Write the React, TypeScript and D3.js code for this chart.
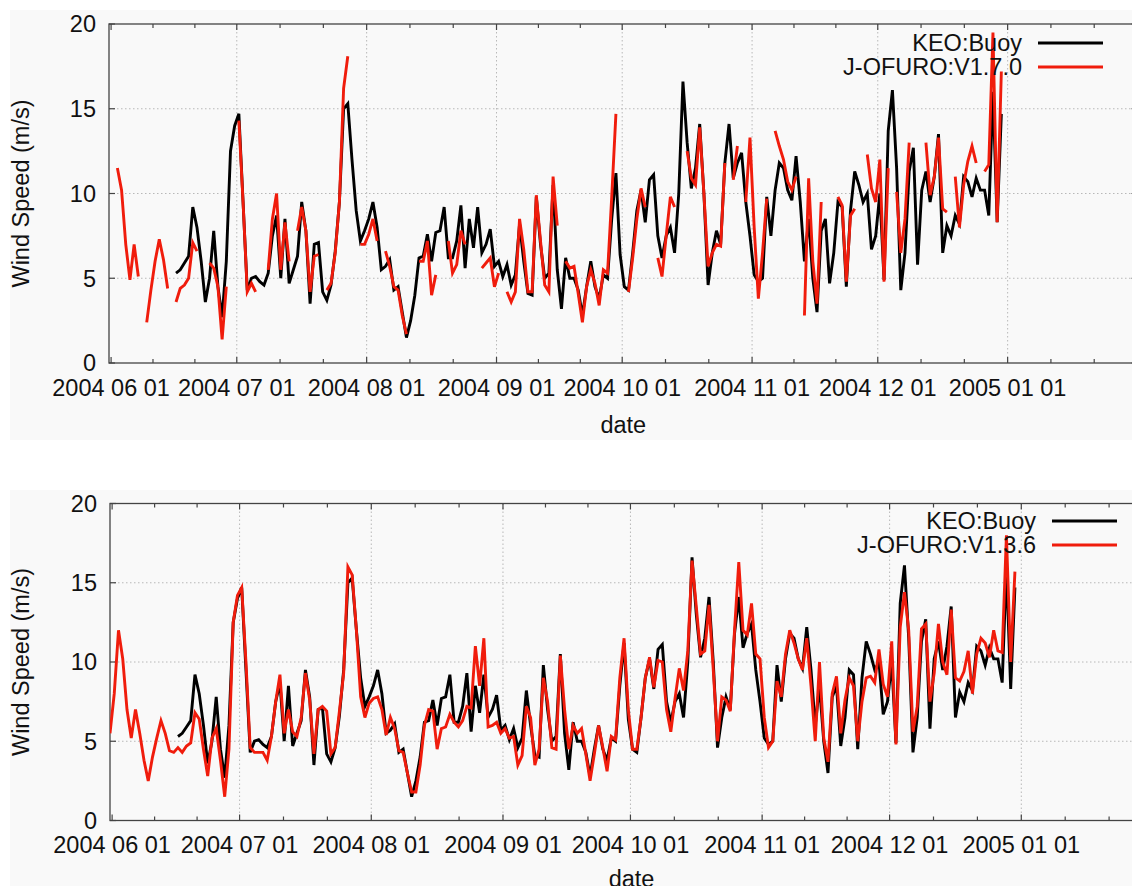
import * as d3 from "d3";
import React, { useEffect, useRef } from "react";

// daily values, first day = 2004-05-31 (noon), null = missing
const startDay = "2004-05-31T12:00:00Z";
const endDay = "2005-02-01T00:00:00Z";

const keoBuoy = [
  null, null, null, null, null, null, null, null, null, null,
  null, null, null, null, null, null, 5.3, 5.5, 5.9, 6.3,
  9.2, 8.0, 6.0, 3.6, 5.0, 7.8, 4.5, 2.7, 6.0, 12.5,
  14.0, 14.7, 9.5, 4.3, 5.0, 5.1, 4.8, 4.6, 5.3, 7.5,
  8.7, 5.0, 8.5, 4.7, 5.5, 6.3, 9.5, 7.8, 3.5, 7.0,
  7.1, 4.2, 3.7, 4.6, 6.6, 9.5, 15.0, 15.3, 12.0, 9.0,
  7.2, 7.8, 8.5, 9.5, 8.0, 5.5, 5.7, 6.1, 4.3, 4.5,
  3.0, 1.5, 2.5, 4.0, 6.2, 6.3, 7.6, 6.0, 7.7, 7.8,
  9.2, 6.2, 6.2, 7.2, 9.3, 5.6, 8.5, 6.8, 9.2, 6.5,
  7.0, 7.9, 5.7, 6.0, 5.1, 5.8, 4.6, 5.2, 8.2, 6.0,
  4.1, 4.0, 9.8, 7.0, 5.0, 5.3, 10.5, 5.5, 3.2, 6.2,
  5.0, 5.0, 4.3, 2.8, 4.5, 6.0, 4.5, 3.8, 5.2, 5.0,
  8.5, 11.2, 6.4, 4.5, 4.3, 6.5, 9.0, 10.2, 8.3, 10.8,
  11.1, 7.5, 6.2, 7.5, 8.0, 6.5, 10.0, 16.6, 13.0, 10.3,
  11.5, 14.1, 10.0, 4.6, 6.5, 7.8, 7.0, 11.8, 14.1, 10.9,
  11.8, 12.4, 9.5, 7.5, 5.2, 4.8, 5.0, 9.8, 7.5, 10.2,
  11.8, 11.5, 10.2, 9.6, 12.2, 9.5, 6.0, 8.5, 5.0, 3.0,
  7.8, 8.5, 4.7, 6.5, 9.5, 9.2, 4.5, 9.0, 11.3, 10.5,
  9.5, 10.0, 6.7, 7.5, 10.0, 4.9, 13.7, 16.1, 11.5, 4.3,
  6.5, 11.3, 12.7, 5.8, 10.2, 11.3, 9.5, 11.0, 13.5, 6.5,
  8.1, 7.5, 8.7, 8.2, 11.0, 10.7, 9.8, 10.9, 10.2, 10.2,
  8.7, 16.0, 8.3, 14.7,
];

const ofuro170 = [
  null, null, 11.5, 10.2, 7.0, 4.9, 7.0, 5.1, null, 2.4,
  4.3, 6.0, 7.3, 6.1, 4.4, null, 3.6, 4.4, 4.6, 5.0,
  7.1, 6.6, null, null, 5.9, 5.6, 4.5, 1.4, 4.5, null,
  null, 14.3, 9.5, 4.2, 4.7, 4.2, null, null, 5.5, 8.5,
  10.0, 5.5, 8.3, 6.0, null, 7.8, 9.2, 7.8, 4.2, 6.3,
  6.4, null, 4.3, 4.7, 6.5, 9.5, 16.2, 18.1, null, null,
  7.0, 7.0, 7.6, 8.5, 7.2, null, 6.6, 5.7, 4.5, 4.3,
  2.8, 1.7, null, null, 6.0, 6.0, 7.2, 4.0, 5.2, null,
  null, 7.2, 5.3, 5.8, 7.8, 7.0, null, null, null, 5.6,
  5.9, 6.2, 4.5, 5.3, null, 4.2, 3.6, 4.2, 8.5, 6.7,
  4.2, 4.2, 9.9, 7.2, 4.6, 4.2, 11.0, 8.1, null, 6.0,
  5.6, 5.7, 4.1, 2.4, 4.5, 5.5, 4.7, 3.4, 5.5, 5.3,
  9.8, 14.7, null, null, 4.2, 6.2, 8.5, 10.3, 9.2, null,
  null, 6.2, 5.1, 7.5, 9.8, 9.2, null, null, 12.5, 10.9,
  10.5, 13.9, 10.0, 5.7, 6.5, 7.0, 6.9, 11.8, null, 10.8,
  12.8, null, 9.5, 13.3, 8.0, 3.8, 6.5, 9.7, null, 13.7,
  12.8, 12.0, 10.7, 10.2, 11.0, null, 2.8, 10.9, 6.0, 3.5,
  9.5, null, null, null, 9.8, 9.3, 4.8, 8.7, 9.1, null,
  null, 12.3, 10.3, 9.5, 12.0, 4.8, 11.5, null, 10.1, 6.5,
  8.5, 13.0, null, null, null, 13.0, 9.9, 11.0, 13.3, 9.1,
  8.9, null, 11.0, 8.0, 10.5, 11.9, 12.8, 11.8, null, 11.3,
  11.7, 19.5, 8.3, 17.2,
];

const ofuro136 = [
  5.5, 8.0, 12.0, 10.2, 7.0, 5.2, 7.0, 5.5, 3.8, 2.5,
  4.0, 5.2, 6.3, 5.5, 4.4, 4.3, 4.6, 4.3, 4.7, 4.9,
  6.8, 6.4, 4.5, 2.8, 5.2, 5.8, 3.8, 1.5, 4.5, 12.5,
  14.2, 14.7, 10.0, 4.6, 4.3, 4.3, 4.3, 3.8, 5.3, 7.5,
  9.2, 5.5, 7.0, 5.6, 5.3, 6.5, 9.3, 7.6, 4.2, 7.0,
  7.2, 6.9, 4.2, 4.6, 6.9, 9.3, 16.0, 15.5, 12.0, 7.8,
  6.5, 7.4, 7.7, 7.8, 7.0, 5.4, 6.5, 5.8, 4.4, 4.3,
  3.0, 1.8, 1.8, 3.5, 6.0, 7.0, 6.9, 4.5, 5.8, 5.9,
  6.7, 6.2, 5.9, 6.3, 7.2, 7.1, 11.0, 8.5, 11.5, 5.9,
  6.0, 6.2, 5.5, 5.8, 5.2, 5.3, 3.5, 4.1, 7.2, 6.5,
  3.5, 4.5, 9.0, 7.5, 4.6, 4.5, 10.4, 7.0, 4.5, 6.0,
  5.5, 5.8, 4.2, 2.5, 4.2, 6.0, 4.6, 3.1, 5.3, 5.1,
  9.0, 11.5, 7.0, 4.5, 4.5, 6.5, 9.0, 10.3, 8.4, 10.1,
  10.0, 7.0, 5.6, 7.7, 9.6, 8.2, 10.7, 16.4, 13.5, 10.5,
  10.7, 13.6, 9.5, 5.0, 7.8, 7.6, 6.9, 12.0, 16.3, 12.0,
  11.7, 13.7, 10.5, 10.2, 6.5, 4.6, 5.0, 8.8, 7.8, 10.5,
  12.0, 11.2, 10.2, 9.5, 11.5, 8.5, 5.0, 10.0, 5.2, 3.7,
  8.0, 9.1, 5.5, 7.6, 9.0, 8.5, 5.0, 7.5, 9.0, 9.1,
  8.7, 10.8, 8.6, 7.8, 11.3, 4.8, 12.2, 14.4, 12.0, 5.6,
  7.2, 12.1, 12.4, 7.5, 9.3, 12.4, 10.0, 9.2, 13.3, 9.0,
  8.8, 9.4, 10.7, 8.0, 10.5, 11.5, 11.2, 10.3, 12.0, 10.7,
  10.6, 18.0, 10.0, 15.7,
];

const yTicks = [0, 5, 10, 15, 20];
const monthTicks = [
  "2004-06-01", "2004-07-01", "2004-08-01", "2004-09-01",
  "2004-10-01", "2004-11-01", "2004-12-01", "2005-01-01", "2005-02-01",
];

const panels = [
  {
    red: ofuro170, redName: "J-OFURO:V1.7.0",
    bg: [10, 10, 1122, 430],
    left: 109, right: 1137.5, top: 24, bottom: 363,
    tickY: 396, dateY: 433, legendX: 1022, legendY: 43,
  },
  {
    red: ofuro136, redName: "J-OFURO:V1.3.6",
    bg: [10, 490, 1122, 396],
    left: 110, right: 1153, top: 503.5, bottom: 820.5,
    tickY: 853, dateY: 887, legendX: 1036, legendY: 521,
  },
];

const font = "'Liberation Sans', Arial, Helvetica, sans-serif";
const RED = "#f01c0c";

const App = () => {
  const ref = useRef(null);

  useEffect(() => {
    const svg = d3.select(ref.current);
    svg.selectAll("*").remove();

    const t0 = new Date(startDay);
    const dates = keoBuoy.map((_, i) => d3.utcDay.offset(t0, i));
    const months = monthTicks.map((d) => new Date(d + "T00:00:00Z"));

    panels.forEach((p, k) => {
      const g = svg.append("g");
      g.append("rect")
        .attr("x", p.bg[0]).attr("y", p.bg[1])
        .attr("width", p.bg[2]).attr("height", p.bg[3])
        .attr("fill", "#f9f9f9");

      const x = d3.scaleUtc().domain([t0, new Date(endDay)]).range([p.left, p.right]);
      const y = d3.scaleLinear().domain([0, 20]).range([p.bottom, p.top]);

      // minor ticks: thirds of each month
      const minor = [];
      for (let i = 0; i < months.length - 1; i++) {
        const a = +months[i], b = +months[i + 1];
        minor.push(new Date(a + (b - a) / 3), new Date(a + (2 * (b - a)) / 3));
      }
      const labelled = months.slice(0, -1);

      // grid
      g.append("g").selectAll("line").data(labelled.slice(1)).join("line")
        .attr("x1", (d) => x(d)).attr("x2", (d) => x(d))
        .attr("y1", p.top).attr("y2", p.bottom)
        .attr("stroke", "#b8b8b8").attr("stroke-dasharray", "1.5,2.5");
      g.append("g").selectAll("line").data(yTicks.slice(1, -1)).join("line")
        .attr("x1", p.left).attr("x2", p.right)
        .attr("y1", (d) => y(d)).attr("y2", (d) => y(d))
        .attr("stroke", "#b8b8b8").attr("stroke-dasharray", "1.5,2.5");

      // ticks
      const tk = g.append("g").attr("stroke", "#444").attr("stroke-width", 1.2);
      [[labelled, 6], [minor, 4]].forEach(([arr, len]) => {
        arr.forEach((d) => {
          tk.append("line").attr("x1", x(d)).attr("x2", x(d))
            .attr("y1", p.bottom).attr("y2", p.bottom - len);
          tk.append("line").attr("x1", x(d)).attr("x2", x(d))
            .attr("y1", p.top).attr("y2", p.top + len);
        });
      });
      yTicks.forEach((v) => {
        tk.append("line").attr("x1", p.left).attr("x2", p.left + 6)
          .attr("y1", y(v)).attr("y2", y(v));
        tk.append("line").attr("x1", p.right).attr("x2", p.right - 6)
          .attr("y1", y(v)).attr("y2", y(v));
      });

      // border
      g.append("rect")
        .attr("x", p.left).attr("y", p.top)
        .attr("width", p.right - p.left).attr("height", p.bottom - p.top)
        .attr("fill", "none").attr("stroke", "#444").attr("stroke-width", 1.3);

      // tick labels
      const fmt = d3.utcFormat("%Y %m %d");
      g.append("g").selectAll("text").data(labelled).join("text")
        .attr("x", (d) => x(d)).attr("y", p.tickY)
        .attr("text-anchor", "middle")
        .attr("font-family", font).attr("font-size", 23.5).attr("fill", "#111")
        .text((d) => fmt(d));
      g.append("g").selectAll("text").data(yTicks).join("text")
        .attr("x", p.left - 13).attr("y", (d) => y(d))
        .attr("dy", "0.36em").attr("text-anchor", "end")
        .attr("font-family", font).attr("font-size", 23.5).attr("fill", "#111")
        .text((d) => d);

      g.append("text")
        .attr("x", (p.left + p.right) / 2).attr("y", p.dateY)
        .attr("text-anchor", "middle")
        .attr("font-family", font).attr("font-size", 23.5).attr("fill", "#111")
        .text("date");
      g.append("text")
        .attr("transform", `translate(29,${(p.top + p.bottom) / 2}) rotate(-90)`)
        .attr("text-anchor", "middle")
        .attr("font-family", font).attr("font-size", 23.5).attr("fill", "#111")
        .text("Wind Speed (m/s)");

      // series
      const clipId = `clip${k}`;
      svg.append("clipPath").attr("id", clipId).append("rect")
        .attr("x", p.left).attr("y", p.top)
        .attr("width", p.right - p.left).attr("height", p.bottom - p.top);

      const line = d3.line()
        .defined((d) => d != null)
        .x((_, i) => x(dates[i]))
        .y((d) => y(d));

      const series = [
        { name: "KEO:Buoy", values: keoBuoy, color: "#000" },
        { name: p.redName, values: p.red, color: RED },
      ];
      const lines = g.append("g").attr("clip-path", `url(#${clipId})`);
      series.forEach((s) => {
        lines.append("path")
          .attr("d", line(s.values))
          .attr("fill", "none").attr("stroke", s.color)
          .attr("stroke-width", 2.9).attr("stroke-linejoin", "miter");
      });

      // legend
      series.forEach((s, j) => {
        const ly = p.legendY + j * 24;
        g.append("text")
          .attr("x", p.legendX).attr("y", ly)
          .attr("dy", "0.36em").attr("text-anchor", "end")
          .attr("font-family", font).attr("font-size", 23.5).attr("fill", "#111")
          .text(s.name);
        g.append("line")
          .attr("x1", p.legendX + 16).attr("x2", p.legendX + 81)
          .attr("y1", ly).attr("y2", ly)
          .attr("stroke", s.color).attr("stroke-width", 2.9);
      });
    });
  }, []);

  return (
    <svg
      ref={ref}
      width={1132}
      height={886}
      style={{ position: "absolute", left: 0, top: 0, background: "#fff" }}
    />
  );
};

export default App;
